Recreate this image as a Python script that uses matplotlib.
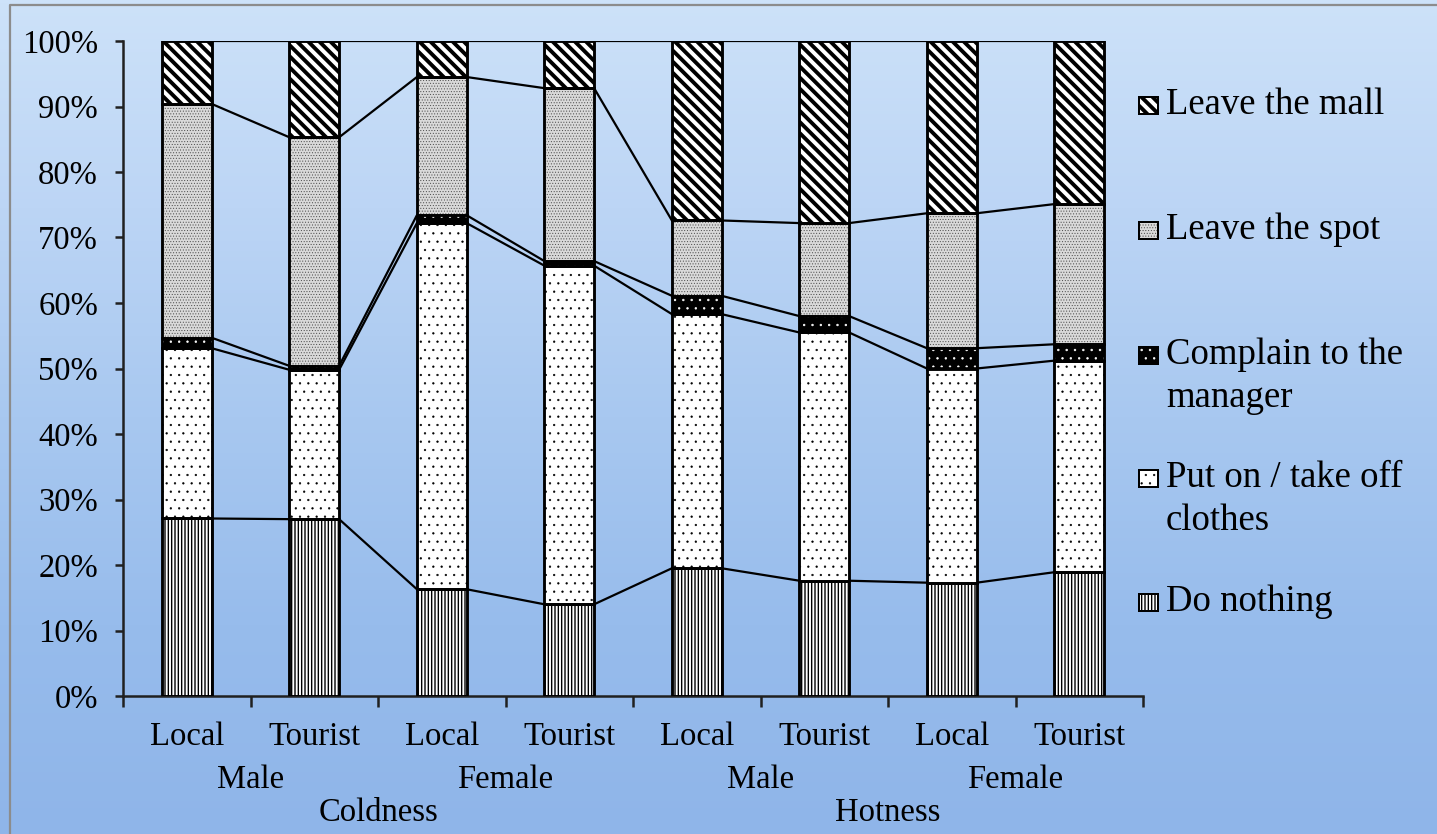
import numpy as np
import matplotlib
matplotlib.use("Agg")
import matplotlib.pyplot as plt
from matplotlib.colors import LinearSegmentedColormap
from matplotlib.lines import Line2D
from matplotlib.patches import Rectangle
from matplotlib.ticker import PercentFormatter

plt.rcParams['font.family'] = ['Liberation Serif', 'DejaVu Serif']

# shares (%) per group, bottom to top
do_nothing = [27.1, 27.0, 16.3, 14.0, 19.5, 17.6, 17.3, 18.9]
put_on_off = [26.0, 22.8, 55.9, 51.7, 38.8, 37.9, 32.7, 32.3]
complain = [1.6, 0.6, 1.2, 0.7, 2.8, 2.5, 3.1, 2.5]
leave_spot = [35.7, 34.9, 21.1, 26.4, 11.5, 14.2, 20.6, 21.4]
leave_mall = [9.6, 14.7, 5.5, 7.2, 27.4, 27.8, 26.3, 24.9]

origin = ["Local", "Tourist"] * 4
gender = ["Male", "Female", "Male", "Female"]
season = ["Coldness", "Hotness"]

series = [
    ("Do nothing", do_nothing),
    ("Put on / take off\nclothes", put_on_off),
    ("Complain to the\nmanager", complain),
    ("Leave the spot", leave_spot),
    ("Leave the mall", leave_mall),
]

# fill / hatch / hatch colour for each series
styles = {
    "Do nothing": dict(face="white", hatch="|||||", hc="black", lw=1.0),
    "Put on / take off\nclothes": dict(face="white", hatch="..", hc="black", lw=0.4),
    "Complain to the\nmanager": dict(face="black", hatch="..", hc="white", lw=0.5),
    "Leave the spot": dict(face="#d9d9d9", hatch="......", hc="#4a4a4a", lw=0.4),
    "Leave the mall": dict(face="white", hatch="\\\\\\", hc="black", lw=2.8),
}

W, H = 1437, 834
fig = plt.figure(figsize=(W / 100, H / 100), dpi=100)

# sky-blue backdrop
bg = fig.add_axes([0, 0, 1, 1], zorder=-10)
grad = np.linspace(0, 1, 256).reshape(-1, 1)
cmap = LinearSegmentedColormap.from_list(
    "sky", ["#cde2f9", "#bcd5f5", "#a8c8f0", "#97bcec", "#8fb5e9"])
bg.imshow(grad, aspect="auto", cmap=cmap, extent=[0, 1, 0, 1])
bg.set_xlim(0, 1)
bg.set_ylim(0, 1)
bg.set_axis_off()
# thin grey frame along the top and left
fig.lines.append(Line2D([10 / W, 10 / W, 1], [0, 1 - 5 / H, 1 - 5 / H],
                        transform=fig.transFigure, color="#8c8c8c", lw=1.6))

ax = fig.add_axes([123 / W, 1 - 696 / H, 1020 / W, 655 / H])
ax.patch.set_alpha(0)

x = np.arange(len(origin))
width = 0.39
bottom = np.zeros(len(x))
tops = []
for name, vals in series:
    vals = np.array(vals) / 100.0
    st = styles[name]
    ax.bar(x, vals, width, bottom=bottom, color=st["face"],
           edgecolor="black", linewidth=1.8, zorder=2)
    with plt.rc_context({"hatch.linewidth": st["lw"]}):
        ax.bar(x, vals, width, bottom=bottom, color="none",
               edgecolor=st["hc"], hatch=st["hatch"], linewidth=0, zorder=3)
    ax.bar(x, vals, width, bottom=bottom, color="none",
           edgecolor="black", linewidth=1.8, zorder=4)
    bottom = bottom + vals
    tops.append(bottom.copy())

# series lines joining the segment tops of neighbouring bars
for t in tops:
    for i in range(len(x) - 1):
        ax.plot([x[i] + width / 2, x[i + 1] - width / 2], [t[i], t[i + 1]],
                color="black", lw=1.6, zorder=1, solid_capstyle="butt")

ax.set_xlim(-0.5, len(x) - 0.5)
ax.set_ylim(0, 1)
ax.set_yticks(np.arange(0, 1.01, 0.1))
ax.yaxis.set_major_formatter(PercentFormatter(1.0, decimals=0))
ax.set_xticks(np.arange(-0.5, len(x), 1.0))
ax.set_xticklabels([])
ax.tick_params(axis="y", direction="out", length=6, width=1.8, labelsize=23.5,
               pad=12, colors="#202020", labelcolor="black")
ax.tick_params(axis="x", direction="out", length=8, width=1.8,
               colors="#202020")
for s in ["top", "right"]:
    ax.spines[s].set_visible(False)
for s in ["left", "bottom"]:
    ax.spines[s].set_linewidth(1.8)
    ax.spines[s].set_color("#202020")

# three-level category labels
trans = ax.get_xaxis_transform()
for i, lab in enumerate(origin):
    ax.text(x[i], -41 / 655, lab, transform=trans, ha="center", va="center",
            fontsize=23.5)
for j, lab in enumerate(gender):
    ax.text(2 * j + 0.5, -84 / 655, lab, transform=trans, ha="center",
            va="center", fontsize=23.5)
for k, lab in enumerate(season):
    ax.text(4 * k + 1.5, -117 / 655, lab, transform=trans, ha="center",
            va="center", fontsize=23.5)

# legend, top entry first
legend_y = [105, 230, 355, 478, 602]
sq_w, sq_h = 19 / W, 17 / H
x0 = 1139 / W
for (name, vals), ly in zip(reversed(series), legend_y):
    st = styles[name]
    yf = 1 - ly / H
    fig.patches.append(Rectangle((x0, yf - sq_h / 2), sq_w, sq_h,
                                 transform=fig.transFigure,
                                 facecolor=st["face"], edgecolor="black",
                                 linewidth=1.4))
    with plt.rc_context({"hatch.linewidth": st["lw"]}):
        fig.patches.append(Rectangle((x0, yf - sq_h / 2), sq_w, sq_h,
                                     transform=fig.transFigure,
                                     facecolor="none", edgecolor=st["hc"],
                                     hatch=st["hatch"], linewidth=0))
    fig.patches.append(Rectangle((x0, yf - sq_h / 2), sq_w, sq_h,
                                 transform=fig.transFigure,
                                 facecolor="none", edgecolor="black",
                                 linewidth=1.4))
    for n, line in enumerate(name.split("\n")):
        fig.text(1166 / W, yf - n * 43 / H, line, ha="left", va="center",
                 fontsize=26.5)

fig.savefig("out.png", dpi=100)
